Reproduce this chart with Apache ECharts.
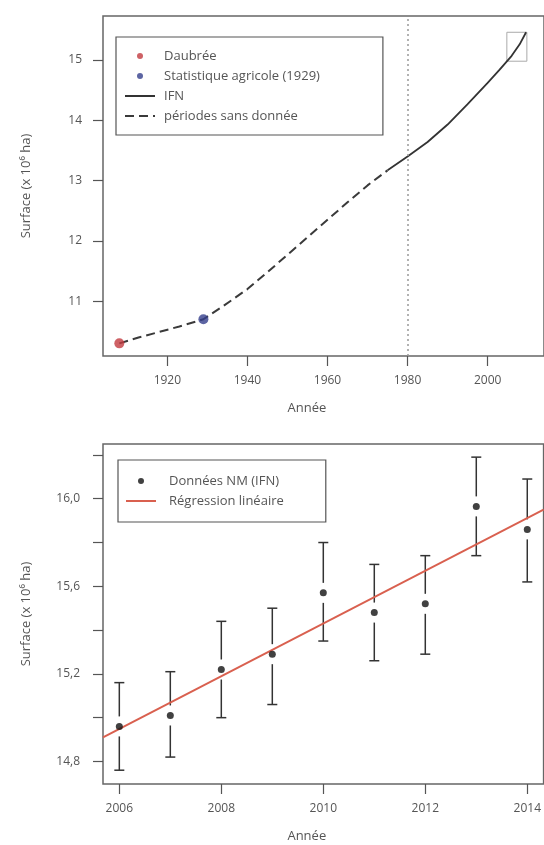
<!DOCTYPE html>
<html><head><meta charset="utf-8">
<script src="https://cdn.jsdelivr.net/npm/echarts@6/dist/echarts.min.js"></script>
<style>html,body{margin:0;padding:0;background:#fff}#c{width:544px;height:845px}</style>
</head><body><div id="c"></div>
<script>
// ---------- top panel data ----------
const daubree = [[1908, 10.30]];
const statAgricole = [[1929, 10.70]];
const periodesSansDonnee = [[1908,10.30],[1913,10.40],[1918,10.49],[1923,10.58],[1929,10.70],[1934,10.92],[1940,11.20],[1945,11.48],[1950,11.77],[1955,12.06],[1960,12.35],[1965,12.64],[1970,12.92],[1975,13.17]];
const ifn = [[1975,13.17],[1980,13.40],[1985,13.64],[1990,13.93],[1995,14.27],[2000,14.62],[2003,14.84],[2006,15.07],[2008,15.26],[2009.6,15.46]];
const topXTicks = [1920,1940,1960,1980,2000];
const topYTicks = [11,12,13,14,15];
const ifnStartYear = 1980;
const zoomBox = [[2004.8,14.98],[2009.8,15.46]];
const topXRange = [1903.92, 2014.08];
const topYRange = [10.09, 15.73];

// ---------- bottom panel data ----------
const years = [2006,2007,2008,2009,2010,2011,2012,2013,2014];
const nmValues = [14.96,15.01,15.22,15.29,15.57,15.48,15.52,15.965,15.86];
const nmLow    = [14.76,14.82,15.00,15.06,15.35,15.26,15.29,15.74,15.62];
const nmHigh   = [15.16,15.21,15.44,15.50,15.80,15.70,15.74,16.19,16.09];
const regression = [[2005.68,14.91],[2014.32,15.95]];
const botXTicks = [2006,2008,2010,2012,2014];
const botYTicks = [14.8,15.0,15.2,15.4,15.6,15.8,16.0,16.2];
const botYLabels = [14.8,15.2,15.6,16.0];
const botXRange = [2005.68, 2014.32];
const botYRange = [14.697, 16.25];

const FONT = '"Open Sans", "DejaVu Sans", sans-serif';
const TXT = '#555';
const yName = 'Surface (x 10\u2076 ha)';

function xAxis(gi, range, ticks) {
  return {
    type:'value', gridIndex:gi, min:range[0], max:range[1],
    axisLine:{show:false}, splitLine:{show:false},
    axisTick:{show:true, length:10, customValues:ticks, lineStyle:{color:'#555', width:1.2}},
    axisLabel:{customValues:ticks, margin:19, color:TXT, fontSize:12, fontFamily:FONT, formatter:v => String(Math.round(v))},
    name:'Année', nameLocation:'middle', nameGap:46,
    nameTextStyle:{color:TXT, fontSize:13, fontFamily:FONT, padding:[0,33,0,0]}
  };
}
function yAxis(gi, range, ticks, labels, fmt, margin) {
  return {
    type:'value', gridIndex:gi, min:range[0], max:range[1],
    axisLine:{show:false}, splitLine:{show:false},
    axisTick:{show:true, length:10, customValues:ticks, lineStyle:{color:'#555', width:1.2}},
    axisLabel:{customValues:labels, margin:margin, color:TXT, fontSize:12, fontFamily:FONT, formatter:fmt},
    name:yName, nameLocation:'middle', nameGap:70,
    nameTextStyle:{color:TXT, fontSize:13, fontFamily:FONT}
  };
}

const hideDot = {opacity:0};
const chart = echarts.init(document.getElementById('c'), null, {renderer:'canvas'});
chart.setOption({
  animation:false,
  backgroundColor:'#fff',
  grid:[
    {left:103, top:16, width:445, height:340, show:true, borderColor:'#666', borderWidth:1.5, backgroundColor:'transparent'},
    {left:103, top:444, width:445, height:340, show:true, borderColor:'#666', borderWidth:1.5, backgroundColor:'transparent'}
  ],
  xAxis:[ xAxis(0, topXRange, topXTicks), xAxis(1, botXRange, botXTicks) ],
  yAxis:[
    yAxis(0, topYRange, topYTicks, topYTicks, v => String(Math.round(v)), 21),
    yAxis(1, botYRange, botYTicks, botYLabels, v => v.toFixed(1).replace('.', ','), 23)
  ],
  legend:[
    {
      left:116, top:37, orient:'vertical', selectedMode:false,
      itemWidth:30, itemHeight:6, itemGap:6,
      padding:[12,63,12,8], borderColor:'#555', borderWidth:1.2,
      textStyle:{fontSize:13, color:TXT, fontFamily:FONT, lineHeight:14, padding:[0,0,0,4]},
      data:['Daubrée','Statistique agricole (1929)',
        {name:'IFN', itemStyle:hideDot},
        {name:'périodes sans donnée', itemStyle:hideDot}]
    },
    {
      left:118, top:460, orient:'vertical', selectedMode:false,
      itemWidth:30, itemHeight:6, itemGap:6,
      padding:[14,42,14,7], borderColor:'#555', borderWidth:1.2,
      textStyle:{fontSize:13, color:TXT, fontFamily:FONT, lineHeight:14, padding:[0,0,0,8]},
      data:['Données NM (IFN)', {name:'Régression linéaire', itemStyle:hideDot}]
    }
  ],
  series:[
    {
      name:'périodes sans donnée', type:'line', xAxisIndex:0, yAxisIndex:0,
      data:periodesSansDonnee, smooth:false, symbol:'none',
      lineStyle:{color:'#3a3a3a', width:2, type:[9,5]}, z:2
    },
    {
      name:'IFN', type:'line', xAxisIndex:0, yAxisIndex:0,
      data:ifn, smooth:false, symbol:'none',
      lineStyle:{color:'#333', width:1.8}, z:2,
      markLine:{silent:true, symbol:['none','none'], label:{show:false},
        lineStyle:{color:'#999', width:1.5, type:[2,3]},
        data:[{xAxis:ifnStartYear}]},
      markArea:{silent:true, label:{show:false},
        itemStyle:{color:'rgba(0,0,0,0)', borderColor:'#aaa', borderWidth:1},
        data:[[{coord:zoomBox[0]},{coord:zoomBox[1]}]]}
    },
    {
      name:'Daubrée', type:'scatter', xAxisIndex:0, yAxisIndex:0,
      data:daubree, symbolSize:10, itemStyle:{color:'#c23a3f'}, z:5
    },
    {
      name:'Statistique agricole (1929)', type:'scatter', xAxisIndex:0, yAxisIndex:0,
      data:statAgricole, symbolSize:10, itemStyle:{color:'#343f8c'}, z:5
    },
    {
      name:'Régression linéaire', type:'line', xAxisIndex:1, yAxisIndex:1,
      data:regression, symbol:'none',
      lineStyle:{color:'#d9604f', width:2}, z:3
    },
    {
      type:'custom', xAxisIndex:1, yAxisIndex:1, silent:true, z:2,
      data:years.map((y,i)=>[y, nmLow[i], nmHigh[i], nmValues[i]]),
      encode:{x:0, y:[1,2]},
      renderItem:(params, api)=>{
        const x = api.value(0);
        const lo = api.coord([x, api.value(1)]);
        const hi = api.coord([x, api.value(2)]);
        const mid = api.coord([x, api.value(3)]);
        const gap = 10, cap = 5;
        const style = {stroke:'#333', lineWidth:1.5};
        return {type:'group', children:[
          {type:'line', shape:{x1:hi[0]-cap, y1:hi[1], x2:hi[0]+cap, y2:hi[1]}, style},
          {type:'line', shape:{x1:hi[0], y1:hi[1], x2:mid[0], y2:mid[1]-gap}, style},
          {type:'line', shape:{x1:mid[0], y1:mid[1]+gap, x2:lo[0], y2:lo[1]}, style},
          {type:'line', shape:{x1:lo[0]-cap, y1:lo[1], x2:lo[0]+cap, y2:lo[1]}, style}
        ]};
      }
    },
    {
      name:'Données NM (IFN)', type:'scatter', xAxisIndex:1, yAxisIndex:1,
      data:years.map((y,i)=>[y, nmValues[i]]), symbolSize:7,
      itemStyle:{color:'#111'}, z:5
    }
  ]
});
</script>
</body></html>
